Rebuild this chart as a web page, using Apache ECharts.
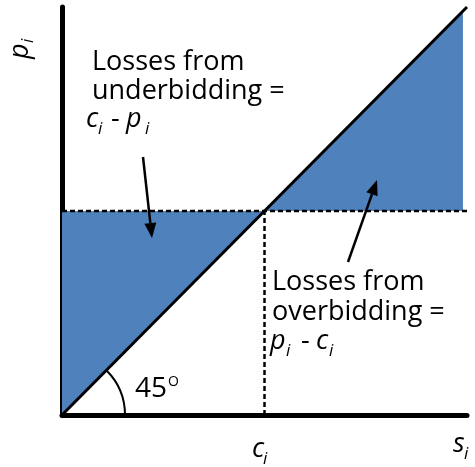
<!DOCTYPE html>
<html>
<head>
<meta charset="utf-8">
<script src="https://cdn.jsdelivr.net/npm/echarts@6/dist/echarts.min.js"></script>
<style>html,body{margin:0;padding:0;background:#fff}#c{width:475px;height:467px}</style>
</head>
<body>
<div id="c"></div>
<script>
// ---- data (axis units, 0..100 on both axes) ----
const xRange = [0, 100];
const yRange = [0, 100];
const costLevel = 50;      // c_i on the s_i axis
const priceLevel = 50;     // p_i on the p_i axis
const diagonal = [[0, 0], [100, 100]];
const underbidArea = [[0, 50], [50, 50], [0, 0]];
const overbidArea = [[50, 50], [99, 50], [99, 99]];
const hDashed = [[0, 50], [100, 50]];
const vDashed = [[50, 0], [50, 50]];

const BLUE = '#4f81bd';
const FONT = '"Open Sans", "Liberation Sans", sans-serif';

function polySeries(points) {
  return {
    type: 'custom',
    data: [0],
    silent: true,
    z: 1,
    renderItem: function (params, api) {
      const pts = points.map(p => api.coord(p));
      return { type: 'polygon', shape: { points: pts }, style: { fill: BLUE, stroke: null } };
    }
  };
}

const chart = echarts.init(document.getElementById('c'), null, { renderer: 'canvas' });

const axisCommon = {
  type: 'value',
  axisLine: { show: true, onZero: false, lineStyle: { color: '#000', width: 5 } },
  axisTick: { show: false },
  axisLabel: { show: false },
  splitLine: { show: false }
};

function txt(x, yBase, text, size, italic, extra) {
  const style = Object.assign({
    x: 0, y: 0, text: text,
    font: (italic ? 'italic ' : '') + size + 'px ' + FONT,
    fill: '#000', align: 'left', verticalAlign: 'middle'
  }, extra || {});
  return { type: 'text', x: x, y: yBase - 0.285 * size, style: style, z: 10 };
}

function arrow(x1, y1, x2, y2) {
  const ang = Math.atan2(y2 - y1, x2 - x1);
  const L = 15, W = 6;
  const bx = x2 - L * Math.cos(ang), by = y2 - L * Math.sin(ang);
  const nx = -Math.sin(ang), ny = Math.cos(ang);
  return [
    { type: 'line', shape: { x1: x1, y1: y1, x2: bx, y2: by }, style: { stroke: '#000', lineWidth: 2.5 }, z: 10 },
    { type: 'polygon', shape: { points: [[x2, y2], [bx + nx * W, by + ny * W], [bx - nx * W, by - ny * W]] }, style: { fill: '#000' }, z: 10 }
  ];
}

chart.setOption({
  animation: false,
  grid: { left: 62, right: 8, top: 7, bottom: 52 },
  xAxis: Object.assign({ min: xRange[0], max: xRange[1] }, axisCommon),
  yAxis: Object.assign({ min: yRange[0], max: yRange[1] }, axisCommon),
  series: [
    polySeries(underbidArea),
    polySeries(overbidArea),
    { type: 'line', data: diagonal, symbol: 'none', silent: true, z: 3,
      lineStyle: { color: '#000', width: 3 } },
    { type: 'line', data: hDashed, symbol: 'none', silent: true, z: 4,
      lineStyle: { color: '#000', width: 2.5, type: [5, 3] } },
    { type: 'line', data: vDashed, symbol: 'none', silent: true, z: 4,
      lineStyle: { color: '#000', width: 2.5, type: [5, 3] } }
  ]
});

const o = chart.convertToPixel({ gridIndex: 0 }, [0, 0]);

const g = [];
// left annotation
g.push(txt(92, 70, 'Losses from', 27, false));
g.push(txt(92, 99, 'underbidding =', 27, false));
g.push(txt(86, 127, 'c', 27, true));
g.push(txt(98, 134, 'i', 17, true));
g.push(txt(111, 127, '-', 27, false));
g.push(txt(126, 127, 'p', 27, true));
g.push(txt(145, 134, 'i', 17, true));
// right annotation
g.push(txt(272, 290, 'Losses from', 27, false));
g.push(txt(272, 320, 'overbidding =', 27, false));
g.push(txt(270, 349, 'p', 27, true));
g.push(txt(286, 356, 'i', 17, true));
g.push(txt(301, 349, '-', 27, false));
g.push(txt(316, 349, 'c', 27, true));
g.push(txt(329, 356, 'i', 17, true));
// 45 degree
g.push(txt(135, 397, '45', 28, false));
g.push(txt(168, 386, 'O', 14, false));
// axis labels
g.push(txt(252, 457, 'c', 27, true));
g.push(txt(263, 464, 'i', 17, true));
g.push(txt(453, 452, 's', 27, true));
g.push(txt(464, 459, 'i', 17, true));
// rotated p_i
g.push({ type: 'text', x: 20, y: 59, rotation: Math.PI / 2,
  style: { x: 0, y: 0, text: 'p', font: 'italic 27px ' + FONT, fill: '#000', align: 'left', verticalAlign: 'middle' } });
g.push({ type: 'text', x: 28, y: 43, rotation: Math.PI / 2,
  style: { x: 0, y: 0, text: 'i', font: 'italic 17px ' + FONT, fill: '#000', align: 'left', verticalAlign: 'middle' } });
// arc
g.push({ type: 'arc', shape: { cx: o[0], cy: o[1], r: 63, startAngle: -Math.PI / 4, endAngle: 0, clockwise: true },
  style: { stroke: '#000', lineWidth: 2, fill: null }, z: 10 });
// arrows
arrow(143, 157, 152, 238).forEach(e => g.push(e));
arrow(348, 262, 377, 180).forEach(e => g.push(e));

chart.setOption({ graphic: { elements: g } });
</script>
</body>
</html>
